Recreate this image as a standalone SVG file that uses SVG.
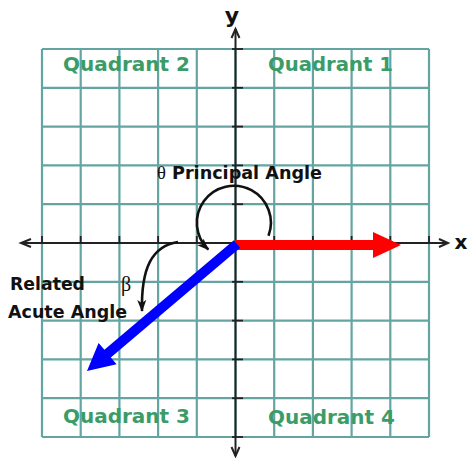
<svg xmlns="http://www.w3.org/2000/svg" width="468" height="458" viewBox="0 0 468 458">
<defs>
<style>
.grid line{stroke:#64a5a2;stroke-width:2.2}
.axis{stroke:#222;stroke-width:2;fill:none}
.tick{stroke:#222;stroke-width:1.8}
.quad{font-family:"DejaVu Sans",sans-serif;font-size:20px;fill:#3a9c68;font-weight:bold}
.lbl{font-family:"DejaVu Sans",sans-serif;font-size:17px;fill:#111;font-weight:bold}
.arc{stroke:#111;stroke-width:2.6;fill:none}
</style>
<marker id="arcHead" viewBox="0 0 12 10" refX="11" refY="5" markerWidth="12" markerHeight="10" markerUnits="userSpaceOnUse" orient="auto">
<path d="M0,0.5 L12,5 L0,9.5 L3,5 z" fill="#111"/>
</marker>
</defs>
<rect width="468" height="458" fill="#fff"/>
<g id="grid" class="grid">
<line x1="42" y1="49" x2="42" y2="437"/>
<line x1="80.7" y1="49" x2="80.7" y2="437"/>
<line x1="119.4" y1="49" x2="119.4" y2="437"/>
<line x1="158.1" y1="49" x2="158.1" y2="437"/>
<line x1="196.8" y1="49" x2="196.8" y2="437"/>
<line x1="235.5" y1="49" x2="235.5" y2="437"/>
<line x1="274.2" y1="49" x2="274.2" y2="437"/>
<line x1="312.9" y1="49" x2="312.9" y2="437"/>
<line x1="351.6" y1="49" x2="351.6" y2="437"/>
<line x1="390.3" y1="49" x2="390.3" y2="437"/>
<line x1="429" y1="49" x2="429" y2="437"/>
<line x1="42" y1="49" x2="429" y2="49"/>
<line x1="42" y1="87.8" x2="429" y2="87.8"/>
<line x1="42" y1="126.6" x2="429" y2="126.6"/>
<line x1="42" y1="165.4" x2="429" y2="165.4"/>
<line x1="42" y1="204.2" x2="429" y2="204.2"/>
<line x1="42" y1="243" x2="429" y2="243"/>
<line x1="42" y1="281.8" x2="429" y2="281.8"/>
<line x1="42" y1="320.6" x2="429" y2="320.6"/>
<line x1="42" y1="359.4" x2="429" y2="359.4"/>
<line x1="42" y1="398.2" x2="429" y2="398.2"/>
<line x1="42" y1="437" x2="429" y2="437"/>
</g>
<g id="axes">
<line class="axis" x1="21" y1="243" x2="448" y2="243"/>
<line class="axis" x1="235.5" y1="29" x2="235.5" y2="456"/>
<polyline class="axis" points="31,239 21,243 31,247"/>
<polyline class="axis" points="439,239 448,243 439,247"/>
<polyline class="axis" points="231.5,38 235.5,29 239.5,38"/>
<polyline class="axis" points="231.5,447 235.5,456 239.5,447"/>
<g class="tick">
<line x1="232" y1="49" x2="243" y2="49"/>
<line x1="232" y1="87.8" x2="243" y2="87.8"/>
<line x1="232" y1="126.6" x2="243" y2="126.6"/>
<line x1="232" y1="165.4" x2="243" y2="165.4"/>
<line x1="232" y1="204.2" x2="243" y2="204.2"/>
<line x1="232" y1="281.8" x2="243" y2="281.8"/>
<line x1="232" y1="320.6" x2="243" y2="320.6"/>
<line x1="232" y1="359.4" x2="243" y2="359.4"/>
<line x1="232" y1="398.2" x2="243" y2="398.2"/>
<line x1="232" y1="437" x2="243" y2="437"/>
<line x1="42" y1="236" x2="42" y2="244"/>
<line x1="80.7" y1="236" x2="80.7" y2="244"/>
<line x1="119.4" y1="236" x2="119.4" y2="244"/>
<line x1="158.1" y1="236" x2="158.1" y2="244"/>
<line x1="196.8" y1="236" x2="196.8" y2="244"/>
<line x1="274.2" y1="236" x2="274.2" y2="244"/>
<line x1="312.9" y1="236" x2="312.9" y2="244"/>
<line x1="351.6" y1="236" x2="351.6" y2="244"/>
<line x1="390.3" y1="236" x2="390.3" y2="244"/>
<line x1="429" y1="236" x2="429" y2="244"/>
</g>
<text x="232" y="23" font-family="DejaVu Sans,sans-serif" font-size="22" font-weight="bold" fill="#111" text-anchor="middle">y</text>
<text x="461" y="249" font-family="DejaVu Sans,sans-serif" font-size="20" font-weight="bold" fill="#111" text-anchor="middle">x</text>
</g>
<g id="terminal-side-red">
<polygon points="235,240 373,240 373,232 401,245 373,258 373,250 235,250" fill="#ff0000"/>
</g>
<g id="terminal-side-blue">
<polygon points="233.8,240.2 104.4,349.7 98.6,342.9 87,371 116.6,364.2 110.8,357.4 240.2,247.8" fill="#0000ff"/>
</g>
<g id="connectors">
<path class="arc" d="M268.5,235.8 A37,37 0 1 0 208.3,249.5" marker-end="url(#arcHead)"/>
<path class="arc" d="M178,242 C152,246 141,268 142,311" marker-end="url(#arcHead)"/>
</g>
<g id="quadrant-labels">
<text class="quad" x="63" y="71" textLength="127" lengthAdjust="spacingAndGlyphs">Quadrant 2</text>
<text class="quad" x="268" y="71" textLength="125" lengthAdjust="spacingAndGlyphs">Quadrant 1</text>
<text class="quad" x="63" y="423" textLength="127" lengthAdjust="spacingAndGlyphs">Quadrant 3</text>
<text class="quad" x="268" y="424" textLength="127" lengthAdjust="spacingAndGlyphs">Quadrant 4</text>
</g>
<g id="principal-label">
<text class="lbl" x="157" y="179" textLength="165" lengthAdjust="spacingAndGlyphs"><tspan font-family="Liberation Serif,serif" font-weight="normal" font-size="18">θ</tspan> Principal Angle</text>
</g>
<g id="related-label">
<text class="lbl" x="10" y="290" textLength="75" lengthAdjust="spacingAndGlyphs">Related</text>
<text class="lbl" x="8" y="318" textLength="119" lengthAdjust="spacingAndGlyphs">Acute Angle</text>
<text x="121" y="291" font-family="Liberation Serif,serif" font-size="20" fill="#111">β</text>
</g>
</svg>
